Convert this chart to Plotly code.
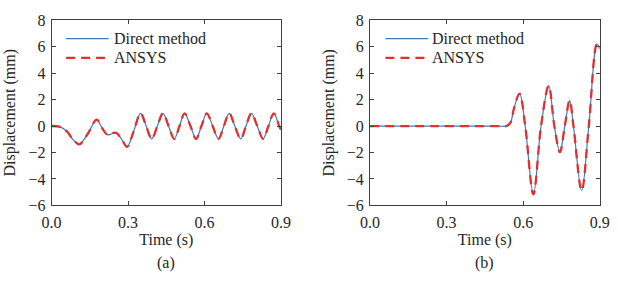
import plotly.graph_objects as go
from plotly.subplots import make_subplots

# ---- data ----
t_a = [0.000, 0.030, 0.060, 0.085, 0.109, 0.140, 0.177, 0.198, 0.220, 0.252, 0.275, 0.296,
       0.322, 0.349, 0.371, 0.393, 0.415, 0.437, 0.459, 0.481, 0.502, 0.522, 0.545, 0.567,
       0.588, 0.609, 0.632, 0.655, 0.676, 0.697, 0.719, 0.742, 0.763, 0.784, 0.807, 0.830,
       0.851, 0.872, 0.893, 0.900]
y_a = [0.00, -0.05, -0.40, -1.05, -1.38, -0.65, 0.48, -0.15, -0.67, -0.50, -1.00, -1.57,
       -0.40, 0.96, 0.00, -0.97, 0.00, 0.96, 0.00, -0.97, 0.00, 0.96, 0.00, -0.97,
       0.00, 0.96, 0.00, -0.97, 0.00, 0.96, 0.00, -0.97, 0.00, 0.96, 0.00, -0.97,
       0.00, 0.96, 0.00, -0.30]

t_b = [0.000, 0.250, 0.500, 0.535, 0.550, 0.565, 0.586, 0.608, 0.640, 0.670, 0.700, 0.722,
       0.744, 0.763, 0.782, 0.797, 0.829, 0.857, 0.889, 0.900]
y_b = [0.00, 0.00, 0.00, 0.00, 0.25, 1.40, 2.45, 0.00, -5.17, 0.00, 3.05, 0.00,
       -1.97, 0.00, 1.94, 0.00, -4.88, 0.00, 6.20, 5.85]

x_ticks = [0.0, 0.3, 0.6, 0.9]
y_ticks = [-6, -4, -2, 0, 2, 4, 6, 8]
series_names = ["Direct method", "ANSYS"]
panel_labels = ["(a)", "(b)"]

BLUE = "#3d7bbd"
RED = "#e0302f"
FONT = "Liberation Serif"
TXT = "#262626"
FS = 16
BLUE_LINE = dict(color=BLUE, width=1.2)
RED_LINE = dict(color=RED, width=2.3, dash="9px,6px")

W, H = 618, 283
fig = make_subplots(rows=1, cols=2)

for i, (t, y) in enumerate([(t_a, y_a), (t_b, y_b)]):
    fig.add_trace(go.Scatter(x=t, y=y, mode="lines", name=series_names[0], showlegend=False,
                             line=dict(shape="spline", smoothing=1.0, **BLUE_LINE)),
                  row=1, col=i + 1)
    fig.add_trace(go.Scatter(x=t, y=y, mode="lines", name=series_names[1], showlegend=False,
                             line=dict(shape="spline", smoothing=1.0, **RED_LINE)),
                  row=1, col=i + 1)

ax_common = dict(showline=True, linecolor="#404040", linewidth=1, mirror="ticks",
                 ticks="inside", ticklen=4, tickcolor="#404040", showgrid=False, zeroline=False,
                 ticklabelstandoff=2,
                 tickfont=dict(family=FONT, size=FS, color=TXT))

dom_x = [[43 / W, 280 / W], [372 / W, 609.5 / W]]
dom_y = [(H - 210) / H, (H - 13) / H]

# legend layout (pixels): key line start/end, text start, row centres
legend_pos = [dict(x0=58, x1=102, tx=106, rows=[32.5, 53]),
              dict(x0=388, x1=432, tx=435, rows=[32.5, 53])]

for i in range(2):
    sfx = "" if i == 0 else "2"
    fig.layout["xaxis" + sfx].update(domain=dom_x[i], range=[0, 0.9], tickvals=x_ticks,
                                     tickformat=".1f",
                                     title=dict(text="Time (s)", standoff=4,
                                                font=dict(family=FONT, size=FS, color=TXT)),
                                     **ax_common)
    fig.layout["yaxis" + sfx].update(domain=dom_y, range=[-6, 8], tickvals=y_ticks,
                                     title=dict(text="Displacement (mm)", standoff=8,
                                                font=dict(family=FONT, size=FS, color=TXT)),
                                     **ax_common)
    fig.add_annotation(text=panel_labels[i], xref="paper", yref="paper",
                       x=(dom_x[i][0] + dom_x[i][1]) / 2, y=1 - 271 / H,
                       showarrow=False, font=dict(family=FONT, size=FS, color=TXT),
                       xanchor="center", yanchor="middle")
    # legend keys + labels
    lp = legend_pos[i]
    for name, style, ry in zip(series_names, [BLUE_LINE, RED_LINE], lp["rows"]):
        fig.add_shape(type="line", xref="paper", yref="paper",
                      x0=lp["x0"] / W, x1=lp["x1"] / W, y0=1 - ry / H, y1=1 - ry / H,
                      line=style)
        fig.add_annotation(text=name, xref="paper", yref="paper",
                           x=lp["tx"] / W, y=1 - ry / H, showarrow=False,
                           xanchor="left", yanchor="middle", borderpad=0,
                           font=dict(family=FONT, size=FS, color=TXT))

fig.update_layout(
    width=W, height=H, margin=dict(l=0, r=0, t=0, b=0),
    paper_bgcolor="white", plot_bgcolor="white", showlegend=False,
)

fig.write_html("out.html")
